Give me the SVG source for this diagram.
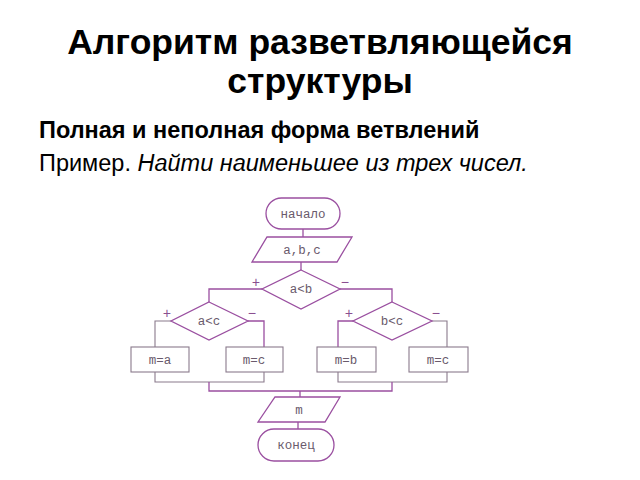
<svg xmlns="http://www.w3.org/2000/svg" width="640" height="480" viewBox="0 0 640 480">
<style>
.t{font-family:"Liberation Sans",Arial,sans-serif;fill:#000}
.s{fill:#fff;stroke:#9a4fa0;stroke-width:1.3}
.g{fill:#fff;stroke:#8a7a8c;stroke-width:1.1}
.c{fill:none;stroke:#9a4fa0;stroke-width:1.3}
.cg{fill:none;stroke:#8a7a8c;stroke-width:1.1}
.l{font-family:"Liberation Mono","DejaVu Sans Mono",monospace;font-size:12.5px;fill:#6a5a6c;text-anchor:middle}
.p{font-family:"Liberation Mono",monospace;font-size:14px;fill:#8a4f90;text-anchor:middle}
</style>
<rect width="640" height="480" fill="#fff"/>
<text class="t" x="320" y="54" font-size="35.5" font-weight="bold" text-anchor="middle">Алгоритм разветвляющейся</text>
<text class="t" x="320" y="93" font-size="35.5" font-weight="bold" text-anchor="middle">структуры</text>
<text class="t" x="39" y="138" font-size="23.5" font-weight="bold">Полная и неполная форма ветвлений</text>
<text class="t" x="39" y="171" font-size="23.5">Пример. <tspan font-style="italic">Найти наименьшее из трех чисел.</tspan></text>

<g id="connectors">
<path class="c" d="M303 229V237"/>
<path class="c" d="M301 262V270"/>
<path class="c" d="M262 289H209V302"/>
<path class="c" d="M340 289H392V302"/>
<path class="cg" d="M171 321H155V347"/>
<path class="c" d="M248 321H264V347"/>
<path class="c" d="M353 321H338V347"/>
<path class="cg" d="M432 321H447V347"/>
<path class="cg" d="M155 372V382H264V372"/>
<path class="cg" d="M338 372V382H447V372"/>
<path class="c" d="M209 382V391H392V382"/>
<path class="c" d="M300 391V397"/>
<path class="c" d="M298 422V429"/>
</g>

<g id="start"><rect class="s" x="266" y="198" width="74" height="31" rx="15.5"/><text class="l" x="303" y="218">начало</text></g>
<g id="input"><polygon class="s" points="267,237 352,237 337,262 252,262"/><text class="l" x="302" y="254">a,b,c</text></g>
<g id="cond1"><polygon class="s" points="301,270 340,289 301,309 262,289"/><text class="l" x="301" y="293">a&lt;b</text>
<text class="p" x="256" y="287">+</text><text class="p" x="345" y="287">−</text></g>
<g id="cond2"><polygon class="s" points="209,302 248,321 209,340 171,321"/><text class="l" x="209" y="325">a&lt;c</text>
<text class="p" x="167" y="318">+</text><text class="p" x="252" y="318">−</text></g>
<g id="cond3"><polygon class="s" points="392,302 432,321 392,340 353,321"/><text class="l" x="392" y="325">b&lt;c</text>
<text class="p" x="349" y="318">+</text><text class="p" x="436" y="318">−</text></g>
<g id="ma"><rect class="g" x="131" y="347" width="58" height="25"/><text class="l" x="160" y="364">m=a</text></g>
<g id="mc1"><rect class="g" x="226" y="347" width="57" height="25"/><text class="l" x="254" y="364">m=c</text></g>
<g id="mb"><rect class="g" x="317" y="347" width="59" height="25"/><text class="l" x="346" y="364">m=b</text></g>
<g id="mc2"><rect class="g" x="409" y="347" width="59" height="25"/><text class="l" x="438" y="364">m=c</text></g>
<g id="output"><polygon class="s" points="275,397 340,397 325,422 258,422"/><text class="l" x="299" y="414">m</text></g>
<g id="end"><rect class="s" x="258" y="429" width="76" height="32" rx="16"/><text class="l" x="296" y="449">конец</text></g>
</svg>
